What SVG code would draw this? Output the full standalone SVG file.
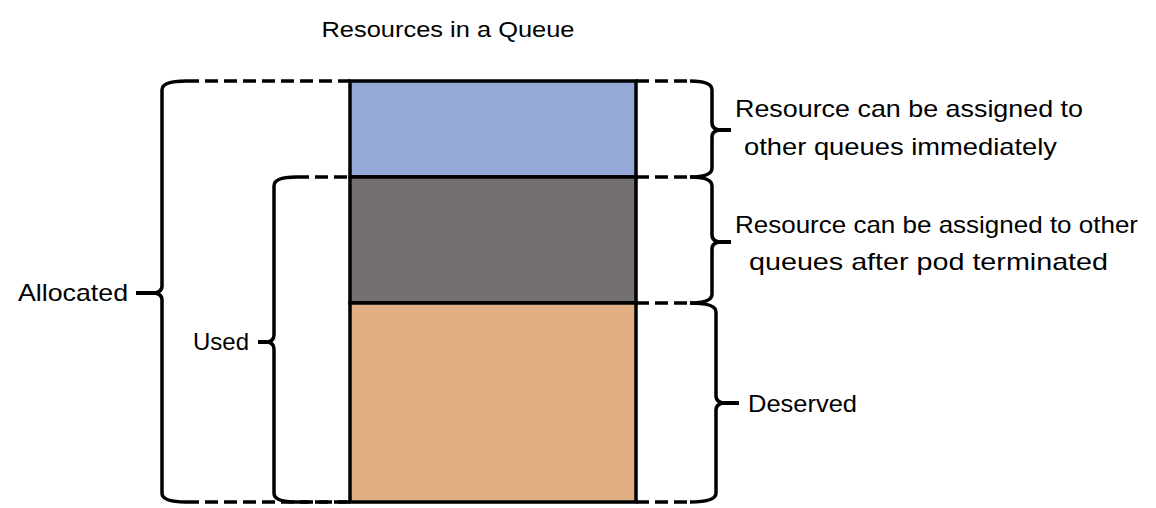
<svg xmlns="http://www.w3.org/2000/svg" width="1156" height="508" viewBox="0 0 1156 508">
<style>
.t{font-family:"Liberation Sans",Arial,sans-serif;font-size:24px;fill:#000}
.h{font-size:22px}
.br{fill:none;stroke:#000;stroke-width:3.5;stroke-linejoin:round;stroke-linecap:butt}
.tip{stroke:#000;stroke-width:4}
.d{stroke:#000;stroke-width:3.5;stroke-dasharray:13 6;fill:none}
.blk{stroke:#000;stroke-width:3.5}
</style>
<rect width="1156" height="508" fill="#fff"/>
<text class="t h" x="448" y="37" text-anchor="middle" textLength="253" lengthAdjust="spacingAndGlyphs">Resources in a Queue</text>
<g id="queue">
<rect id="free" x="350" y="81" width="286" height="96" fill="#95A9D8" class="blk"/>
<rect id="used-extra" x="350" y="177" width="286" height="126" fill="#757070" class="blk"/>
<rect id="deserved-block" x="350" y="303" width="286" height="199" fill="#E2AF84" class="blk"/>
</g>
<g id="connectors">
<line class="d" x1="186" y1="81" x2="350" y2="81"/>
<line class="d" x1="186" y1="502" x2="350" y2="502"/>
<line class="d" x1="296" y1="177" x2="350" y2="177"/>
<line class="d" x1="296" y1="502" x2="350" y2="502"/>
<line class="d" x1="636" y1="81" x2="690" y2="81"/>
<line class="d" x1="636" y1="177" x2="690" y2="177"/>
<line class="d" x1="636" y1="303" x2="690" y2="303"/>
<line class="d" x1="636" y1="502" x2="690" y2="502"/>
</g>
<g id="allocated">
<path class="br" d="M186,81 Q162,81 162,90 L162,286 Q162,293 152,293 Q162,293 162,300 L162,493 Q162,502 186,502"/>
<line class="tip" x1="136" y1="293" x2="154" y2="293"/>
<text class="t" x="18" y="301" textLength="110" lengthAdjust="spacingAndGlyphs">Allocated</text>
</g>
<g id="used">
<path class="br" d="M296,177 Q274,177 274,186 L274,335 Q274,342 265,342 Q274,342 274,349 L274,493 Q274,502 296,502"/>
<line class="tip" x1="258" y1="342" x2="267" y2="342"/>
<text class="t" x="193" y="350" textLength="56" lengthAdjust="spacingAndGlyphs">Used</text>
</g>
<g id="immediate">
<path class="br" d="M690,81 Q712,81 712,90 L712,123 Q712,130 722,130 Q712,130 712,137 L712,168 Q712,177 690,177"/>
<line class="tip" x1="720" y1="130" x2="731" y2="130"/>
<text class="t" x="735" y="117" textLength="348" lengthAdjust="spacingAndGlyphs">Resource can be assigned to</text>
<text class="t" x="744" y="155" textLength="313" lengthAdjust="spacingAndGlyphs">other queues immediately</text>
</g>
<g id="after-terminated">
<path class="br" d="M690,177 Q712,177 712,186 L712,235 Q712,242 722,242 Q712,242 712,249 L712,294 Q712,303 690,303"/>
<line class="tip" x1="720" y1="242" x2="731" y2="242"/>
<text class="t" x="735" y="233" textLength="403" lengthAdjust="spacingAndGlyphs">Resource can be assigned to other</text>
<text class="t" x="749" y="270" textLength="359" lengthAdjust="spacingAndGlyphs">queues after pod terminated</text>
</g>
<g id="deserved">
<path class="br" d="M690,303 Q716,303 716,312 L716,396 Q716,403 726,403 Q716,403 716,410 L716,493 Q716,502 690,502"/>
<line class="tip" x1="724" y1="403" x2="739" y2="403"/>
<text class="t" x="748" y="412" textLength="109" lengthAdjust="spacingAndGlyphs">Deserved</text>
</g>
</svg>
